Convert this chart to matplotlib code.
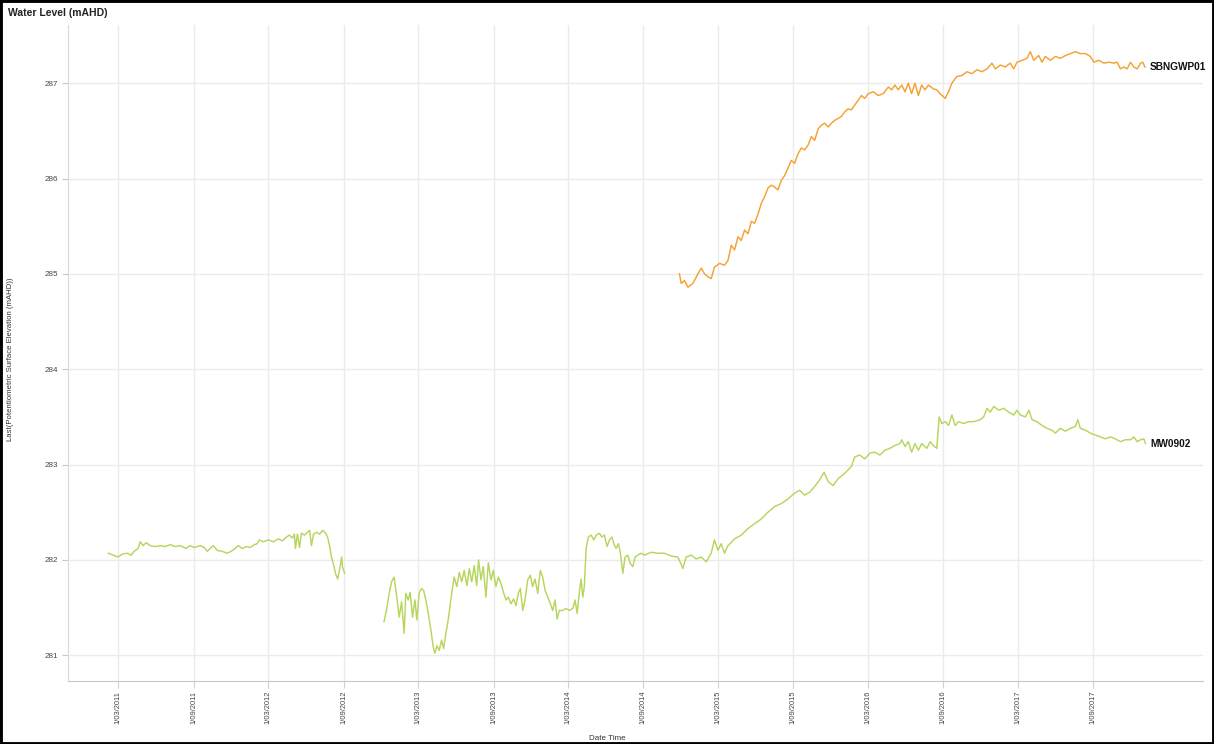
import matplotlib
matplotlib.use("Agg")
import matplotlib.pyplot as plt
from matplotlib.patches import Rectangle
from datetime import datetime, timedelta
import calendar

# ---------------- data (decimal years, mAHD) ----------------
mw_seg1_t = [2011.097, 2011.128, 2011.162, 2011.189, 2011.222, 2011.249, 2011.269, 2011.296, 2011.309, 2011.329,
             2011.349, 2011.376, 2011.409, 2011.443, 2011.476, 2011.510, 2011.543, 2011.576, 2011.616, 2011.643,
             2011.670, 2011.710, 2011.737, 2011.757, 2011.777, 2011.797, 2011.824, 2011.857, 2011.891, 2011.917,
             2011.944, 2011.964, 2011.991, 2012.018, 2012.044, 2012.071, 2012.091, 2012.104, 2012.131, 2012.165,
             2012.198, 2012.231, 2012.258, 2012.285, 2012.305, 2012.325, 2012.338, 2012.345, 2012.358, 2012.372,
             2012.385, 2012.405, 2012.425, 2012.439, 2012.452, 2012.465, 2012.486, 2012.506, 2012.526, 2012.546,
             2012.559, 2012.572, 2012.586, 2012.599, 2012.613, 2012.626, 2012.639, 2012.653, 2012.659, 2012.673]
mw_seg1_v = [282.07, 282.05, 282.03, 282.06, 282.07, 282.05, 282.09, 282.12, 282.19, 282.15,
             282.18, 282.15, 282.14, 282.15, 282.14, 282.16, 282.14, 282.15, 282.12, 282.15,
             282.13, 282.15, 282.13, 282.09, 282.12, 282.15, 282.10, 282.09, 282.07, 282.09,
             282.12, 282.15, 282.12, 282.14, 282.13, 282.16, 282.17, 282.21, 282.19, 282.21,
             282.19, 282.22, 282.20, 282.24, 282.26, 282.23, 282.27, 282.12, 282.27, 282.13,
             282.28, 282.26, 282.29, 282.31, 282.15, 282.27, 282.29, 282.27, 282.31, 282.28,
             282.24, 282.15, 282.02, 281.95, 281.85, 281.80, 281.90, 282.03, 281.92, 281.86]

mw_seg2_t = [2012.935, 2012.953, 2012.969, 2012.985, 2013.002, 2013.020, 2013.036, 2013.052, 2013.069, 2013.080,
             2013.096, 2013.109, 2013.125, 2013.141, 2013.154, 2013.169, 2013.185, 2013.199, 2013.214, 2013.230,
             2013.248, 2013.263, 2013.274, 2013.288, 2013.303, 2013.319, 2013.332, 2013.348, 2013.363, 2013.377,
             2013.393, 2013.403, 2013.421, 2013.437, 2013.453, 2013.470, 2013.488, 2013.504, 2013.520, 2013.537,
             2013.553, 2013.566, 2013.582, 2013.597, 2013.615, 2013.631, 2013.649, 2013.664, 2013.682, 2013.698,
             2013.716, 2013.734, 2013.749, 2013.764, 2013.782, 2013.800, 2013.816, 2013.831, 2013.845, 2013.861,
             2013.876, 2013.894, 2013.911, 2013.927, 2013.943, 2013.961, 2013.978, 2013.994, 2014.010, 2014.028,
             2014.045, 2014.061, 2014.077, 2014.090, 2014.105, 2014.128, 2014.150, 2014.172, 2014.195, 2014.210,
             2014.224, 2014.239, 2014.250, 2014.262, 2014.272, 2014.284, 2014.299, 2014.317, 2014.335, 2014.351,
             2014.373, 2014.389, 2014.406, 2014.424, 2014.440, 2014.456, 2014.469, 2014.484, 2014.500, 2014.513,
             2014.529, 2014.544, 2014.562, 2014.580, 2014.596, 2014.611, 2014.629, 2014.651, 2014.674, 2014.718,
             2014.763, 2014.807, 2014.852, 2014.897, 2014.930, 2014.952, 2014.986, 2015.019, 2015.053, 2015.086,
             2015.119, 2015.141, 2015.164, 2015.186, 2015.208, 2015.231, 2015.275, 2015.320, 2015.365, 2015.409,
             2015.454, 2015.498, 2015.543, 2015.587, 2015.632, 2015.676, 2015.710, 2015.743, 2015.777, 2015.810,
             2015.843, 2015.873, 2015.900, 2015.933, 2015.966, 2016.011, 2016.055, 2016.077, 2016.111, 2016.144,
             2016.178, 2016.211, 2016.244, 2016.278, 2016.311, 2016.345, 2016.378, 2016.390, 2016.412, 2016.434,
             2016.456, 2016.478, 2016.501, 2016.523, 2016.557, 2016.579, 2016.601, 2016.624, 2016.639, 2016.657,
             2016.679, 2016.702, 2016.724, 2016.746, 2016.769, 2016.802, 2016.835, 2016.869, 2016.913, 2016.936,
             2016.958, 2016.980, 2017.003, 2017.036, 2017.069, 2017.103, 2017.136, 2017.158, 2017.180, 2017.214,
             2017.237, 2017.259, 2017.292, 2017.325, 2017.359, 2017.392, 2017.414, 2017.448, 2017.481, 2017.515,
             2017.548, 2017.564, 2017.581, 2017.615, 2017.648, 2017.682, 2017.715, 2017.749, 2017.782, 2017.815,
             2017.849, 2017.882, 2017.916, 2017.938, 2017.961, 2017.983, 2018.005, 2018.016]
mw_seg2_v = [281.35, 281.49, 281.65, 281.77, 281.82, 281.61, 281.40, 281.56, 281.23, 281.65,
             281.58, 281.66, 281.40, 281.58, 281.37, 281.65, 281.70, 281.68, 281.58, 281.44,
             281.26, 281.09, 281.02, 281.10, 281.05, 281.16, 281.07, 281.23, 281.37, 281.54,
             281.72, 281.82, 281.72, 281.87, 281.77, 281.89, 281.73, 281.91, 281.77, 281.94,
             281.73, 282.00, 281.79, 281.93, 281.61, 281.97, 281.79, 281.89, 281.72, 281.82,
             281.75, 281.65, 281.58, 281.61, 281.54, 281.59, 281.52, 281.65, 281.70, 281.47,
             281.58, 281.79, 281.84, 281.72, 281.80, 281.65, 281.89, 281.82, 281.68, 281.61,
             281.54, 281.47, 281.58, 281.38, 281.47, 281.47, 281.49, 281.47, 281.49, 281.58,
             281.44, 281.66, 281.80, 281.61, 281.72, 282.12, 282.24, 282.26, 282.21, 282.26,
             282.28, 282.24, 282.26, 282.14, 282.21, 282.24, 282.17, 282.12, 282.17, 282.07,
             281.86, 282.03, 282.05, 281.96, 281.93, 282.03, 282.05, 282.07, 282.05, 282.08,
             282.07, 282.07, 282.04, 282.03, 281.91, 282.03, 282.05, 282.01, 282.03, 281.98,
             282.07, 282.21, 282.10, 282.17, 282.07, 282.15, 282.22, 282.26, 282.33, 282.38,
             282.43, 282.50, 282.56, 282.59, 282.64, 282.70, 282.73, 282.68, 282.71, 282.77,
             282.84, 282.92, 282.82, 282.78, 282.85, 282.91, 282.98, 283.08, 283.10, 283.06,
             283.12, 283.13, 283.10, 283.15, 283.17, 283.20, 283.22, 283.26, 283.19, 283.24,
             283.13, 283.22, 283.15, 283.22, 283.17, 283.24, 283.20, 283.17, 283.50, 283.43,
             283.45, 283.41, 283.52, 283.41, 283.45, 283.43, 283.45, 283.45, 283.47, 283.50,
             283.59, 283.55, 283.61, 283.57, 283.59, 283.55, 283.52, 283.57, 283.52, 283.50,
             283.57, 283.47, 283.45, 283.41, 283.38, 283.36, 283.33, 283.38, 283.35, 283.38,
             283.40, 283.47, 283.38, 283.36, 283.33, 283.31, 283.29, 283.27, 283.29, 283.27,
             283.24, 283.26, 283.26, 283.29, 283.24, 283.26, 283.27, 283.22]

sb_t = [2014.907, 2014.919, 2014.941, 2014.964, 2014.997, 2015.030, 2015.053, 2015.075, 2015.097, 2015.119,
        2015.141, 2015.175, 2015.208, 2015.231, 2015.253, 2015.275, 2015.298, 2015.320, 2015.342, 2015.365,
        2015.387, 2015.409, 2015.432, 2015.454, 2015.476, 2015.498, 2015.520, 2015.543, 2015.565, 2015.587,
        2015.609, 2015.632, 2015.654, 2015.676, 2015.699, 2015.721, 2015.743, 2015.766, 2015.788, 2015.810,
        2015.833, 2015.855, 2015.877, 2015.900, 2015.922, 2015.944, 2015.966, 2015.988, 2016.011, 2016.033,
        2016.055, 2016.077, 2016.100, 2016.122, 2016.144, 2016.167, 2016.200, 2016.234, 2016.267, 2016.301,
        2016.323, 2016.345, 2016.367, 2016.390, 2016.412, 2016.434, 2016.456, 2016.478, 2016.501, 2016.523,
        2016.545, 2016.568, 2016.601, 2016.624, 2016.646, 2016.679, 2016.702, 2016.724, 2016.757, 2016.791,
        2016.824, 2016.857, 2016.891, 2016.924, 2016.958, 2016.991, 2017.013, 2017.047, 2017.080, 2017.113,
        2017.136, 2017.158, 2017.192, 2017.225, 2017.247, 2017.270, 2017.303, 2017.325, 2017.347, 2017.381,
        2017.414, 2017.448, 2017.481, 2017.515, 2017.548, 2017.581, 2017.615, 2017.648, 2017.671, 2017.704,
        2017.738, 2017.771, 2017.805, 2017.827, 2017.849, 2017.872, 2017.894, 2017.916, 2017.938, 2017.961,
        2017.983, 2017.998, 2018.012]
sb_v = [285.00, 284.90, 284.93, 284.86, 284.90, 285.00, 285.06, 285.00, 284.97, 284.95,
        285.07, 285.11, 285.09, 285.14, 285.30, 285.25, 285.39, 285.35, 285.46, 285.42,
        285.55, 285.53, 285.63, 285.74, 285.81, 285.90, 285.93, 285.91, 285.88, 285.98,
        286.03, 286.11, 286.19, 286.16, 286.26, 286.32, 286.30, 286.35, 286.44, 286.40,
        286.52, 286.56, 286.58, 286.54, 286.58, 286.61, 286.63, 286.65, 286.70, 286.73,
        286.72, 286.77, 286.82, 286.87, 286.84, 286.89, 286.91, 286.87, 286.89, 286.96,
        286.93, 286.98, 286.93, 286.98, 286.91, 287.00, 286.89, 287.00, 286.87, 286.98,
        286.93, 286.98, 286.94, 286.93, 286.89, 286.84, 286.91, 287.00, 287.07, 287.08,
        287.12, 287.10, 287.14, 287.12, 287.15, 287.21, 287.15, 287.19, 287.17, 287.21,
        287.15, 287.22, 287.24, 287.26, 287.33, 287.24, 287.29, 287.22, 287.28, 287.24,
        287.28, 287.26, 287.29, 287.31, 287.33, 287.31, 287.31, 287.28, 287.22, 287.24,
        287.21, 287.22, 287.21, 287.22, 287.15, 287.17, 287.15, 287.22, 287.17, 287.15,
        287.21, 287.22, 287.17]

series_names = ["SBNGWP01", "MW0902"]
series_colors = ["#F4A233", "#B6D65E"]
y_ticks = [281, 282, 283, 284, 285, 286, 287]
x_tick_dates = ["2011-03-01", "2011-09-01", "2012-03-01", "2012-09-01", "2013-03-01", "2013-09-01",
                "2014-03-01", "2014-09-01", "2015-03-01", "2015-09-01", "2016-03-01", "2016-09-01",
                "2017-03-01", "2017-09-01"]
x_limits = ["2010-10-30", "2018-05-27"]
y_limits = [280.73, 287.61]


def to_dt(y):
    yr = int(y)
    n = 366 if calendar.isleap(yr) else 365
    return datetime(yr, 1, 1) + timedelta(days=(y - yr) * n)


plt.rcParams['font.family'] = ['Liberation Sans', 'DejaVu Sans']

fig = plt.figure(figsize=(12.14, 7.44), dpi=100)
ax = fig.add_axes([68 / 1214, 1 - 681 / 744, (1203 - 68) / 1214, (681 - 25) / 744])

grid_c = "#ebebeb"
lw = 1.05
ax.plot([to_dt(t) for t in sb_t], sb_v, color=series_colors[0], lw=lw, solid_joinstyle='round')
ax.plot([to_dt(t) for t in mw_seg1_t], mw_seg1_v, color=series_colors[1], lw=lw, solid_joinstyle='round')
ax.plot([to_dt(t) for t in mw_seg2_t], mw_seg2_v, color=series_colors[1], lw=lw, solid_joinstyle='round')

# end labels
ax.annotate(series_names[0], (to_dt(sb_t[-1]), sb_v[-1]), xytext=(3.5, 0), textcoords='offset points',
            va='center', ha='left', fontsize=7.3, fontweight='bold', color='#111111')
ax.annotate(series_names[1], (to_dt(mw_seg2_t[-1]), mw_seg2_v[-1]), xytext=(3.5, 0), textcoords='offset points',
            va='center', ha='left', fontsize=7.3, fontweight='bold', color='#111111')

ax.set_xlim(datetime.strptime(x_limits[0], "%Y-%m-%d"), datetime.strptime(x_limits[1], "%Y-%m-%d"))
ax.set_ylim(*y_limits)

xt = [datetime.strptime(d, "%Y-%m-%d") for d in x_tick_dates]
ax.set_xticks(xt)
ax.set_xticklabels([f"{d.day}/{d.month:02d}/{d.year}" for d in xt], rotation=90, fontsize=5.4, color='#444444')
ax.set_yticks(y_ticks)
ax.set_yticklabels([str(v) for v in y_ticks], fontsize=5.8, color='#444444')

ax.grid(True, color=grid_c, lw=1.0)
ax.set_axisbelow(True)
for s in ['top', 'right']:
    ax.spines[s].set_visible(False)
ax.spines['left'].set_color('#d8d8d8')
ax.spines['bottom'].set_color('#c8c8c8')
ax.tick_params(axis='x', length=5, color='#d0d0d0', pad=2)
ax.tick_params(axis='y', length=4, color='#c8c8c8', pad=3)

ax.set_ylabel("Last(Potentiometric Surface Elevation (mAHD))", fontsize=5.6, color='#333333')
ax.yaxis.set_label_coords(-0.048, 0.49)
ax.set_xlabel("Date Time", fontsize=5.8, color='#333333')
ax.xaxis.set_label_coords(0.475, -0.083)

fig.text(8 / 1214, 1 - 13 / 744, "Water Level (mAHD)", fontsize=7.5, fontweight='bold', va='center', ha='left',
         color='#222222')

fig.patches.append(Rectangle((0, 0), 1, 1, transform=fig.transFigure, fill=False, edgecolor='black', lw=3.5,
                             zorder=10))

fig.savefig("out.png", dpi=100)
